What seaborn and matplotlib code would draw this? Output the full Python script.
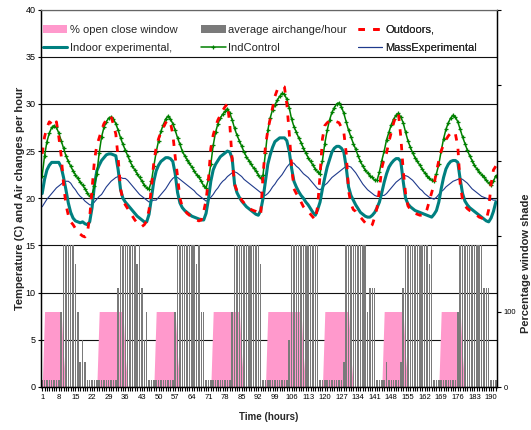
import numpy as np
import matplotlib
matplotlib.use("Agg")
import matplotlib.pyplot as plt
from matplotlib.patches import Patch
from matplotlib.lines import Line2D
from matplotlib.ticker import MultipleLocator, FixedLocator
import seaborn as sns

# ---------------------------------------------------------------- data
hours = np.arange(1, 193)

# average air changes per hour (one value per hour, eight days)
airchange = [
    0.7, 0.7, 0.7, 0.7, 0.7, 0.7, 0.7, 0.7, 7.9, 15, 15, 15, 15, 15, 13, 7.9, 2.7, 5.0, 2.7, 0.7, 0.7, 0.7, 0.7, 0.7,
    0.7, 0.7, 0.7, 0.7, 0.7, 0.7, 0.7, 0.7, 10.5, 15, 15, 15, 15, 15, 15, 15, 13, 15, 10.5, 5.0, 7.9, 0.7, 0.7, 0.7,
    0.7, 0.7, 0.7, 0.7, 0.7, 0.7, 0.7, 0.7, 7.9, 15, 15, 15, 15, 15, 15, 15, 15, 13, 15, 7.9, 7.9, 0.7, 0.7, 0.7,
    0.7, 0.7, 0.7, 0.7, 0.7, 0.7, 0.7, 0.7, 7.9, 15, 15, 15, 15, 15, 15, 15, 15, 15, 15, 15, 13, 0.7, 0.7, 0.7,
    0.7, 0.7, 0.7, 0.7, 0.7, 0.7, 0.7, 0.7, 5.0, 15, 15, 15, 15, 15, 15, 15, 15, 15, 15, 15, 15, 0.7, 0.7, 0.7,
    0.7, 0.7, 0.7, 0.7, 0.7, 0.7, 0.7, 2.7, 15, 15, 15, 15, 15, 15, 15, 15, 15, 7.9, 10.5, 10.5, 10.5, 0.7, 0.7, 0.7,
    0.7, 2.7, 0.7, 0.7, 0.7, 0.7, 0.7, 2.7, 10.5, 15, 15, 15, 15, 15, 15, 15, 15, 15, 15, 13, 15, 0.7, 0.7, 0.7,
    0.7, 0.7, 0.7, 0.7, 0.7, 0.7, 0.7, 7.9, 15, 15, 15, 15, 15, 15, 15, 15, 15, 15, 10.5, 10.5, 10.5, 0.7, 0.7, 0.7,
]

# window state in percent (right axis)
window_pct = [
    0, 100, 100, 100, 100, 100, 100, 100, 100, 40, 0, 0, 0, 0, 0, 0, 0, 0, 0, 0, 0, 0, 0, 0,
    100, 100, 100, 100, 100, 100, 100, 100, 100, 100, 100, 40, 0, 0, 0, 0, 0, 0, 0, 0, 0, 0, 0, 0,
    100, 100, 100, 100, 100, 100, 100, 100, 100, 40, 0, 0, 0, 0, 0, 0, 0, 0, 0, 0, 0, 0, 0, 0,
    100, 100, 100, 100, 100, 100, 100, 100, 100, 100, 100, 100, 40, 0, 0, 0, 0, 0, 0, 0, 0, 0, 0, 100,
    100, 100, 100, 100, 100, 100, 100, 100, 100, 100, 100, 100, 100, 100, 40, 0, 0, 0, 0, 0, 0, 0, 0, 100,
    100, 100, 100, 100, 100, 100, 100, 100, 100, 100, 40, 0, 0, 0, 0, 0, 0, 0, 0, 0, 0, 0, 0, 0,
    100, 100, 100, 100, 100, 100, 100, 100, 100, 40, 0, 0, 0, 0, 0, 0, 0, 0, 0, 0, 0, 0, 0, 0,
    100, 100, 100, 100, 100, 100, 100, 100, 100, 40, 0, 0, 0, 0, 0, 0, 0, 0, 0, 0, 0, 0, 0, 0,
]

outdoors = [
    24.7, 26.5, 27.5, 28.1, 27.9, 27.6, 28.1, 26.5, 24.5, 21.5, 19.3, 18.2, 17.5, 17.2, 16.8, 16.4, 16.2, 16.0, 15.9, 16.3, 18.0, 21.0, 24.0, 25.6,
    26.4, 27.2, 27.9, 28.3, 28.6, 28.7, 27.8, 26.8, 24.2, 21.0, 19.8, 19.3, 18.9, 18.5, 18.1, 17.7, 17.4, 17.1, 17.0, 17.2, 17.6, 18.8, 21.2, 23.8,
    25.4, 26.3, 27.0, 27.5, 28.0, 28.3, 28.0, 26.8, 24.4, 22.3, 20.0, 19.1, 18.7, 18.4, 18.2, 18.0, 17.8, 17.7, 17.6, 17.7, 18.6, 19.8, 22.0, 25.3,
    26.7, 27.6, 28.3, 28.8, 29.3, 29.7, 30.0, 27.8, 24.0, 21.5, 20.8, 20.2, 19.8, 19.5, 19.2, 19.0, 18.8, 18.7, 18.6, 18.4, 18.2, 22.5, 25.5, 27.2,
    28.4, 29.6, 30.8, 31.5, 31.7, 31.9, 31.8, 30.0, 27.0, 23.5, 21.0, 20.5, 20.1, 19.6, 19.1, 18.8, 18.6, 18.3, 18.0, 17.7, 19.2, 22.5, 26.3, 27.7,
    28.0, 28.2, 28.3, 28.2, 28.1, 28.0, 27.5, 27.0, 24.8, 20.8, 19.4, 18.8, 18.6, 18.2, 18.0, 17.7, 17.4, 17.1, 17.0, 17.2, 18.0, 19.0, 21.0, 23.2,
    24.2, 24.8, 26.0, 27.0, 28.0, 28.8, 29.0, 26.5, 23.0, 20.5, 19.2, 18.8, 18.5, 18.4, 18.3, 18.2, 18.2, 18.2, 18.8, 19.7, 20.6, 21.5, 22.8, 24.0,
    25.0, 25.7, 26.2, 26.6, 26.9, 27.1, 26.8, 25.5, 21.5, 19.8, 19.2, 18.9, 18.7, 18.6, 18.4, 18.2, 18.0, 17.9, 17.8, 17.7, 18.8, 21.5, 23.0, 23.4,
]

indoor_experimental = [
    20.5, 22.0, 23.0, 23.5, 23.8, 23.8, 23.8, 23.8, 23.3, 22.2, 20.9, 19.5, 18.5, 17.9, 17.6, 17.5, 17.4, 17.5, 17.3, 17.2, 17.5, 19.0, 21.4, 22.9,
    23.5, 24.0, 24.3, 24.6, 24.7, 24.7, 24.6, 24.5, 23.0, 20.9, 20.0, 19.6, 19.3, 19.0, 18.7, 18.4, 18.1, 17.9, 17.7, 17.5, 17.5, 18.3, 20.0, 21.8,
    22.9, 23.5, 23.9, 24.1, 24.3, 24.3, 24.2, 23.9, 22.6, 20.6, 19.5, 19.0, 18.7, 18.5, 18.3, 18.1, 18.0, 17.9, 17.8, 17.7, 17.7, 18.4, 19.9, 21.8,
    23.0, 23.6, 24.0, 24.4, 24.6, 24.8, 25.0, 24.9, 24.2, 21.5, 20.6, 20.1, 19.7, 19.4, 19.1, 18.9, 18.7, 18.5, 18.3, 18.2, 18.7, 20.0, 21.8, 23.6,
    24.6, 25.4, 26.0, 26.2, 26.4, 26.4, 26.4, 26.1, 25.0, 23.2, 21.8, 21.2, 20.7, 20.3, 20.0, 19.6, 19.3, 18.9, 18.5, 18.2, 18.8, 19.6, 21.0, 22.2,
    23.3, 24.1, 24.9, 25.3, 25.5, 25.5, 25.3, 24.9, 23.3, 21.2, 20.3, 19.8, 19.3, 18.9, 18.5, 18.3, 18.1, 18.0, 18.0, 18.2, 18.5, 19.0, 19.6, 20.6,
    21.7, 22.6, 23.3, 23.7, 24.0, 24.2, 24.2, 23.9, 21.8, 20.0, 19.4, 19.1, 18.9, 18.7, 18.6, 18.5, 18.4, 18.3, 18.2, 18.1, 18.0, 18.3, 18.7, 19.6,
    21.0, 22.2, 23.1, 23.6, 23.9, 24.0, 24.0, 23.8, 22.0, 20.5, 19.7, 19.3, 19.0, 18.8, 18.6, 18.4, 18.2, 18.0, 17.8, 17.6, 17.5, 17.9, 18.6, 19.6,
]

ind_control = [
    22.4, 24.5, 26.0, 26.9, 27.5, 27.7, 27.5, 26.9, 26.1, 25.3, 24.5, 23.9, 23.4, 22.9, 22.5, 22.1, 21.7, 21.4, 21.0, 20.6, 20.2, 20.4, 21.3, 22.6,
    24.8, 26.5, 27.5, 28.1, 28.5, 28.6, 28.4, 27.9, 27.2, 26.4, 25.7, 25.1, 24.5, 23.9, 23.4, 23.0, 22.6, 22.2, 21.8, 21.4, 21.1, 21.0, 21.8, 23.4,
    24.9, 26.1, 27.1, 27.8, 28.4, 28.7, 28.4, 27.9, 27.2, 26.4, 25.7, 25.0, 24.5, 24.1, 23.7, 23.3, 22.9, 22.5, 22.2, 21.8, 21.3, 21.1, 22.0, 23.6,
    25.6, 27.0, 27.9, 28.5, 28.9, 29.2, 29.5, 29.0, 28.3, 27.4, 26.7, 26.1, 25.5, 24.9, 24.4, 24.0, 23.6, 23.2, 22.9, 22.5, 22.1, 22.5, 24.8, 27.2,
    28.5, 29.4, 29.9, 30.4, 30.8, 31.1, 31.0, 30.5, 29.6, 28.4, 27.6, 27.0, 26.4, 25.9, 25.3, 24.8, 24.3, 23.9, 23.5, 23.1, 22.8, 22.6, 24.0, 25.8,
    27.2, 28.3, 29.1, 29.6, 30.0, 30.1, 29.7, 29.0, 28.1, 27.2, 26.5, 25.8, 25.2, 24.5, 23.9, 23.4, 23.0, 22.7, 22.4, 22.2, 21.9, 21.9, 22.8, 24.0,
    25.0, 26.2, 27.0, 27.8, 28.4, 28.8, 29.0, 28.6, 28.0, 27.0, 26.1, 25.4, 24.8, 24.3, 23.9, 23.5, 23.1, 22.7, 22.4, 22.1, 21.9, 21.8, 22.6, 23.6,
    25.0, 26.3, 27.3, 28.0, 28.5, 28.8, 28.6, 28.1, 27.3, 26.5, 25.8, 25.1, 24.5, 24.0, 23.5, 23.1, 22.8, 22.5, 22.2, 21.9, 21.6, 21.4, 21.8, 22.4,
]

mass_experimental = [
    19.1, 19.5, 19.9, 20.2, 20.5, 20.8, 21.1, 21.3, 21.5, 21.7, 21.8, 21.8, 21.6, 21.2, 20.9, 20.5, 20.2, 20.0, 19.7, 19.5, 19.3, 19.3, 19.6, 19.9,
    20.2, 20.4, 20.8, 21.2, 21.5, 21.8, 22.0, 22.2, 22.3, 22.2, 22.1, 22.1, 21.9, 21.6, 21.3, 21.0, 20.7, 20.4, 20.2, 20.0, 19.8, 19.6, 19.7, 19.8,
    19.8, 20.1, 20.4, 20.7, 21.0, 21.4, 21.8, 22.1, 22.3, 22.2, 22.0, 21.8, 21.6, 21.4, 21.2, 21.0, 20.8, 20.5, 20.3, 20.1, 19.9, 19.7, 19.8, 20.1,
    20.4, 20.8, 21.1, 21.5, 21.8, 22.0, 22.3, 22.5, 22.7, 22.8, 22.7, 22.5, 22.3, 22.0, 21.8, 21.6, 21.4, 21.2, 21.0, 20.8, 20.6, 20.4, 20.3, 20.5,
    20.8, 21.2, 21.5, 21.9, 22.2, 22.5, 22.9, 23.3, 23.6, 23.8, 23.7, 23.4, 23.2, 22.9, 22.6, 22.4, 22.2, 21.9, 21.6, 21.3, 21.0, 20.9, 21.1, 21.4,
    21.6, 21.9, 22.2, 22.4, 22.6, 22.8, 23.0, 23.2, 23.4, 23.4, 23.3, 23.0, 22.7, 22.3, 21.9, 21.5, 21.2, 20.9, 20.7, 20.5, 20.3, 20.2, 20.2, 20.3,
    20.3, 20.5, 20.8, 21.1, 21.4, 21.7, 21.9, 22.1, 22.3, 22.4, 22.3, 22.1, 21.9, 21.6, 21.3, 21.0, 20.8, 20.5, 20.3, 20.1, 20.0, 19.9, 20.1, 20.4,
    20.7, 20.9, 21.2, 21.4, 21.6, 21.8, 21.9, 22.0, 22.1, 22.0, 21.8, 21.6, 21.3, 21.0, 20.8, 20.6, 20.4, 20.2, 20.1, 20.0, 19.9, 19.9, 19.8, 19.8,
]

x_tick_hours = list(range(1, 191, 7))
left_ticks = [0, 5, 10, 15, 20, 25, 30, 35, 40]
right_ticks = [0, 100, 200, 300, 400, 500]
right_tick_labels = ["0", "100", "", "", "", ""]

# ---------------------------------------------------------------- style
sns.set_style("white")
plt.rcParams["font.family"] = ["Liberation Sans", "DejaVu Sans"]

PINK = "#ff99cc"
GREY = "#7a7a7a"
RED = "#ff0000"
TEAL = "#008080"
GREEN = "#008000"
NAVY = "#1f3a8c"
RED_LW = 2.0
RED_DASH = (0, (2.3, 3.0))

fig = plt.figure(figsize=(5.31, 4.30), dpi=100)
ax = fig.add_axes([41 / 531, 1 - 387 / 430, 456 / 531, 377.5 / 430])
ax2 = ax.twinx()

ax.set_xlim(0.5, 192.5)
ax.set_ylim(0, 40)
ax2.set_ylim(0, 500)

# horizontal grid below everything
ax.set_axisbelow(True)
ax.yaxis.grid(True, color="#111111", lw=0.8)
ax.xaxis.grid(False)

# window state, scaled on the right-hand axis but drawn in the main axes
ax.fill_between(hours, 0, window_pct, transform=ax2.transData,
                color=PINK, lw=0, zorder=1)

# hourly air change bars
ax.bar(hours, airchange, width=0.6, color=GREY, linewidth=0, zorder=2)

# temperature series
sns.lineplot(x=hours, y=mass_experimental, ax=ax, color=NAVY, lw=0.8,
             legend=False, zorder=3)
sns.lineplot(x=hours, y=indoor_experimental, ax=ax, color=TEAL, lw=2.2,
             legend=False, zorder=4)
sns.lineplot(x=hours, y=ind_control, ax=ax, color=GREEN, lw=1.1,
             marker="+", markersize=3.5, markeredgewidth=0.9,
             markeredgecolor=GREEN, legend=False, zorder=5)
sns.lineplot(x=hours, y=outdoors, ax=ax, color=RED, lw=RED_LW,
             linestyle=RED_DASH, legend=False, zorder=6)

# ---------------------------------------------------------------- axes
ax.xaxis.set_major_locator(FixedLocator(x_tick_hours))
ax.xaxis.set_minor_locator(MultipleLocator(1))
ax.set_xticklabels([str(h) for h in x_tick_hours])
ax.yaxis.set_major_locator(FixedLocator(left_ticks))
ax.set_yticklabels([str(t) for t in left_ticks])
ax.tick_params(axis="x", which="both", direction="out", length=3, width=0.8,
               labelsize=5.5, pad=2, bottom=True, colors="black")
ax.tick_params(axis="y", which="major", direction="out", length=2.5, width=0.8,
               labelsize=6.5, pad=1.5, left=True, colors="black")

ax2.yaxis.set_major_locator(FixedLocator(right_ticks))
ax2.set_yticklabels(right_tick_labels)
ax2.tick_params(axis="y", direction="out", length=3, width=0.8,
                labelsize=5.5, pad=2, right=True, colors="black")
ax2.grid(False)

for a in (ax, ax2):
    for side in ("left", "bottom", "right"):
        a.spines[side].set_color("black")
        a.spines[side].set_linewidth(0.9)
    a.spines["top"].set_color("#666666")
    a.spines["top"].set_linewidth(0.8)

ax.set_ylabel("Temperature (C) and Air changes per hour",
              fontsize=8, fontweight="bold")
ax.yaxis.set_label_coords(-0.034, 0.5)
ax.set_xlabel("Time (hours)", fontsize=7, fontweight="bold")
ax.xaxis.set_label_coords(0.5, -0.066)
ax2.set_ylabel("Percentage window shade", fontsize=8, fontweight="bold")
ax2.yaxis.set_label_coords(1.053, 0.328)

# ---------------------------------------------------------------- legend
# three two-row columns laid out across the top band of the plot
legend_cols = [
    ([Patch(facecolor=PINK, edgecolor="none"),
      Line2D([], [], color=TEAL, lw=2.2)],
     ["% open close window", "Indoor experimental,"], 0.0044),
    ([Patch(facecolor=GREY, edgecolor="none"),
      Line2D([], [], color=GREEN, lw=1.1, marker="+", markersize=3.5,
             markeredgewidth=0.9)],
     ["average airchange/hour", "IndControl"], 0.351),
    ([Line2D([], [], color=RED, lw=RED_LW, linestyle=RED_DASH),
      Line2D([], [], color=NAVY, lw=0.8)],
     ["Outdoors,", "MassExperimental"], 0.695),
]
for handles, labels, x0 in legend_cols:
    leg = ax.legend(handles, labels, loc="upper left",
                    bbox_to_anchor=(x0, 0.959), frameon=False, fontsize=8,
                    handlelength=2.2, handletextpad=0.25, labelspacing=0.73,
                    borderpad=0, borderaxespad=0)
    ax.add_artist(leg)

fig.savefig("out.png", dpi=100)
